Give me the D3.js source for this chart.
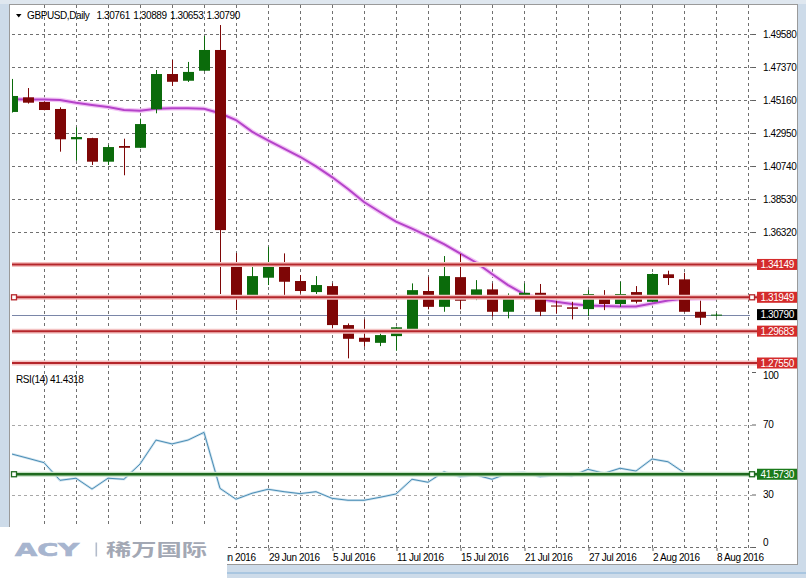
<!DOCTYPE html>
<html><head><meta charset="utf-8">
<script src="https://cdn.jsdelivr.net/npm/d3@7/dist/d3.min.js"></script>
<style>
html,body{margin:0;padding:0;background:#cddbe9;}
svg{display:block;}
text{font-family:"Liberation Sans",Arial,sans-serif;}
</style></head><body>
<svg id="c" width="806" height="578"></svg>
<script>
// ---------- data ----------
const dates = ["7 Jun 2016","8 Jun 2016","9 Jun 2016","10 Jun 2016","13 Jun 2016","14 Jun 2016","15 Jun 2016","16 Jun 2016","17 Jun 2016",
"20 Jun 2016","21 Jun 2016","22 Jun 2016","23 Jun 2016","24 Jun 2016","27 Jun 2016","28 Jun 2016","29 Jun 2016","30 Jun 2016","1 Jul 2016",
"4 Jul 2016","5 Jul 2016","6 Jul 2016","7 Jul 2016","8 Jul 2016","11 Jul 2016","12 Jul 2016","13 Jul 2016","14 Jul 2016","15 Jul 2016",
"18 Jul 2016","19 Jul 2016","20 Jul 2016","21 Jul 2016","22 Jul 2016","25 Jul 2016","26 Jul 2016","27 Jul 2016","28 Jul 2016","29 Jul 2016",
"1 Aug 2016","2 Aug 2016","3 Aug 2016","4 Aug 2016","5 Aug 2016","8 Aug 2016"];
const open  = [1.4436,1.4534,1.4503,1.4456,1.4253,1.4261,1.4103,1.4208,1.4196,1.4454,1.4690,1.4645,1.4712,1.4851,1.3411,1.3194,1.3326,1.3416,1.3304,
1.3230,1.3270,1.3009,1.2924,1.2890,1.2935,1.2975,1.3237,1.3131,1.3330,1.3183,1.3248,1.3098,1.3199,1.3225,1.3140,1.3128,1.3116,1.3210,1.3150,
1.3230,1.3165,1.3349,1.3315,1.3098,1.30761];
const high  = [1.4657,1.4596,1.4507,1.4467,1.4333,1.4263,1.4215,1.4257,1.4391,1.4717,1.4784,1.4771,1.4945,1.5018,1.3491,1.3411,1.3533,1.3489,1.3344,
1.3337,1.3288,1.3020,1.3047,1.2953,1.2998,1.3288,1.3332,1.3471,1.3485,1.3310,1.3288,1.3221,1.3288,1.3284,1.3172,1.3165,1.3243,1.3243,1.3299,
1.3270,1.3355,1.3373,1.3359,1.3172,1.30889];
const low   = [1.4432,1.4492,1.4447,1.4170,1.4109,1.4081,1.4081,1.4012,1.4194,1.4427,1.4610,1.4637,1.4710,1.3217,1.3109,1.3192,1.3277,1.3199,1.3221,
1.3217,1.2987,1.2786,1.2864,1.2868,1.2837,1.2964,1.3114,1.3098,1.3114,1.3176,1.3065,1.3054,1.3176,1.3069,1.3087,1.3047,1.3069,1.3109,1.3131,
1.3154,1.3163,1.3277,1.3096,1.3009,1.30653];
const close = [1.4543,1.4498,1.4449,1.4253,1.4268,1.4103,1.4201,1.4196,1.4355,1.4690,1.4638,1.4704,1.4851,1.3645,1.3210,1.3337,1.3418,1.3299,1.3237,
1.3277,1.3009,1.2917,1.2897,1.2942,1.2994,1.3243,1.3131,1.3337,1.3172,1.3248,1.3098,1.3203,1.3225,1.3098,1.3133,1.3118,1.3217,1.3150,1.3217,
1.3165,1.3351,1.3324,1.3098,1.3058,1.30790];
const ma    = [1.4521,1.4519,1.4519,1.4516,1.4498,1.4483,1.4469,1.4449,1.4444,1.4458,1.4460,1.4460,1.4458,1.4427,1.4382,1.4304,1.4245,1.4191,1.4136,
1.4071,1.4000,1.3920,1.3833,1.3766,1.3702,1.3655,1.3605,1.3551,1.3489,1.3428,1.3351,1.3277,1.3217,1.3183,1.3165,1.3150,1.3140,1.3136,1.3133,
1.3133,1.3153,1.3173,1.3186,1.3188,1.3188];
const rsi   = [53.1,50.7,48.2,38.1,39.3,33.1,39.3,38.7,47.4,61.1,58.9,61.1,65.5,33.5,27.3,30.7,33.0,31.6,30.5,
31.6,27.8,26.7,26.7,28.4,30.3,38.7,37.0,43.0,40.2,41.1,38.7,42.1,42.5,40.2,41.1,40.6,44.4,42.1,45.0,
43.4,50.3,48.7,42.5,41.5,41.43];
const priceTicks = [1.4958,1.4737,1.4516,1.4295,1.4074,1.3853,1.3632];
const levels = [1.34149,1.31949,1.29683,1.27550];
const lastPrice = 1.30790;
const rsiLevel = 41.5730;
const rsiTicks = [100,70,30,0];
const rsiGrid = [70,30,0];
const dateTickIdx = [12,16,20,24,28,32,36,40,44];
const header = ["GBPUSD,Daily","1.30761","1.30889","1.30653","1.30790"];
const rsiTitle = "RSI(14) 41.4318";

// ---------- layout ----------
const svg = d3.select("#c");
const L = 12, R = 750, T = 5, MB = 368;
const x = d3.scaleLinear().domain([0,44]).range([12,716]);
const y = d3.scaleLinear().domain([1.2755,1.4958]).range([363,34]);
const ry = d3.scaleLinear().domain([0,100]).range([547,372]);
const GREEN = "#0b6b0b", RED = "#7e0606";

// window
svg.append("rect").attr("x",0).attr("y",0).attr("width",806).attr("height",578).attr("fill","#cddbe9");
svg.append("rect").attr("x",0).attr("y",0).attr("width",806).attr("height",4).attr("fill","#dfe7ef");
svg.append("rect").attr("x",9.5).attr("y",4.5).attr("width",788).attr("height",560).attr("fill","#fff").attr("stroke","#9a9a9a");
svg.append("line").attr("x1",0).attr("x2",806).attr("y1",573).attr("y2",573).attr("stroke","#a9c6e0").attr("stroke-width",2);

const defs = svg.append("defs");
defs.append("clipPath").attr("id","mainClip").append("rect").attr("x",L).attr("y",T).attr("width",R-L).attr("height",MB-T);
defs.append("clipPath").attr("id","rsiClip").append("rect").attr("x",L).attr("y",368).attr("width",R-L).attr("height",182);

// vertical grid
const vg = svg.append("g");
d3.range(2,47,2).forEach(i=>{
  vg.append("line").attr("x1",x(i)+0.5).attr("x2",x(i)+0.5).attr("y1",T).attr("y2",548)
    .attr("stroke","#707070").attr("stroke-dasharray","3,3");
});
// horizontal grid main
priceTicks.forEach(p=>{
  svg.append("line").attr("x1",L).attr("x2",752).attr("y1",Math.round(y(p))+0.5).attr("y2",Math.round(y(p))+0.5)
    .attr("stroke","#707070").attr("stroke-dasharray","3,3");
});
// rsi grid
rsiGrid.forEach(v=>{
  svg.append("line").attr("x1",L).attr("x2",752).attr("y1",Math.round(ry(v))+0.5).attr("y2",Math.round(ry(v))+0.5)
    .attr("stroke", v===0 ? "#707070" : "#a8a8a8").attr("stroke-dasharray","3,3");
});

// main panel marks
const main = svg.append("g").attr("clip-path","url(#mainClip)");
main.append("line").attr("x1",L).attr("x2",757).attr("y1",Math.round(y(lastPrice))+0.5).attr("y2",Math.round(y(lastPrice))+0.5)
  .attr("stroke","#7a86a8").attr("stroke-width",1);

// levels
const lv = svg.append("g");
levels.forEach(p=>{
  const yy = y(p);
  lv.append("line").attr("x1",L).attr("x2",757).attr("y1",yy).attr("y2",yy).attr("stroke","#f4c2c2").attr("stroke-width",5);
  lv.append("line").attr("x1",L).attr("x2",757).attr("y1",yy).attr("y2",yy).attr("stroke","#b5262b").attr("stroke-width",2);
});
[14,752].forEach(xx=>{
  lv.append("rect").attr("x",xx-2.5).attr("y",y(levels[1])-2.5).attr("width",5).attr("height",5)
    .attr("fill","#fff").attr("stroke","#b5262b").attr("stroke-width",1.3);
});

// MA
const maLine = d3.line().x((d,i)=>x(i)).y(d=>y(d));
main.append("path").attr("d",maLine(ma)).attr("fill","none").attr("stroke","#f3c4f6").attr("stroke-width",4.5);
main.append("path").attr("d",maLine(ma)).attr("fill","none").attr("stroke","#b443c9").attr("stroke-width",2);

// candles
const idx = d3.range(open.length);
const cg = main.append("g");
idx.forEach(i=>{
  const up = close[i] >= open[i];
  const col = up ? GREEN : RED;
  const cx = Math.round(x(i));
  cg.append("line").attr("x1",cx+0.5).attr("x2",cx+0.5).attr("y1",y(high[i])).attr("y2",y(low[i])).attr("stroke",col).attr("stroke-width",1);
  const top = y(Math.max(open[i],close[i])), bot = y(Math.min(open[i],close[i]));
  cg.append("rect").attr("x",cx-5).attr("y",top).attr("width",11).attr("height",Math.max(1,bot-top)).attr("fill",col);
});

// RSI
const rsiG = svg.append("g").attr("clip-path","url(#rsiClip)");
const rl = d3.line().x((d,i)=>x(i)).y(d=>ry(d));
rsiG.append("path").attr("d",rl(rsi)).attr("fill","none").attr("stroke","#cfe3ef").attr("stroke-width",2.5);
rsiG.append("path").attr("d",rl(rsi)).attr("fill","none").attr("stroke","#4a8db5").attr("stroke-width",1);
svg.append("line").attr("x1",L).attr("x2",757).attr("y1",ry(rsiLevel)).attr("y2",ry(rsiLevel)).attr("stroke","#c4e0c4").attr("stroke-width",5);
svg.append("line").attr("x1",L).attr("x2",757).attr("y1",ry(rsiLevel)).attr("y2",ry(rsiLevel)).attr("stroke","#1f6a1f").attr("stroke-width",2.5);
[14,752].forEach(xx=>{
  svg.append("rect").attr("x",xx-2.5).attr("y",ry(rsiLevel)-2.5).attr("width",5).attr("height",5)
    .attr("fill","#fff").attr("stroke","#1f6a1f").attr("stroke-width",1.3);
});

// axes
const fs = "10px", ls = "-0.4px";
const yAxis = d3.axisRight(y).tickValues(priceTicks).tickFormat(d3.format(".5f")).tickSize(4).tickPadding(7);
const ya = svg.append("g").attr("transform","translate(752,0)").call(yAxis);
ya.select(".domain").remove();
ya.selectAll(".tick line").attr("stroke","#606060");
ya.selectAll("text").attr("fill","#000").style("font-size",fs).style("letter-spacing",ls).attr("font-family",null);

const rAxis = d3.axisRight(ry).tickValues(rsiTicks).tickFormat(d3.format("d")).tickSize(4).tickPadding(7);
const ra = svg.append("g").attr("transform","translate(752,0)").call(rAxis);
ra.select(".domain").remove();
ra.selectAll(".tick line").attr("stroke","#606060");
ra.selectAll("text").attr("fill","#000").style("font-size",fs).style("letter-spacing",ls).attr("font-family",null)
  .attr("dy",d=> d===0 ? "-0.2em" : (d===100 ? "0.6em" : "0.32em"));

// price boxes
function box(yy, label, fill){
  svg.append("rect").attr("x",757).attr("y",yy-5.5).attr("width",40).attr("height",11).attr("fill",fill);
  svg.append("text").attr("x",760.5).attr("y",yy).attr("dy","0.36em").attr("fill","#fff")
    .style("font-size",fs).style("letter-spacing",ls).text(label);
}
levels.forEach(p=>box(y(p), d3.format(".5f")(p), "#d42b2b"));
box(y(lastPrice), d3.format(".5f")(lastPrice), "#000");
box(ry(rsiLevel), d3.format(".4f")(rsiLevel), "#1b7a1b");

// date axis
const xAxis = d3.axisBottom(x).tickValues(dateTickIdx).tickFormat(i=>dates[i]).tickSize(3).tickPadding(2);
const xa = svg.append("g").attr("transform","translate(0.5,548)").call(xAxis);
xa.select(".domain").remove();
xa.selectAll(".tick line").attr("stroke","#606060");
xa.selectAll("text").attr("text-anchor","start").attr("fill","#000").attr("y",13).attr("dy",0)
  .style("font-size",fs).style("letter-spacing",ls).attr("font-family",null);

// header
svg.append("path").attr("d","M16,14 L21.5,14 L18.75,17.5 Z").attr("fill","#000");
const hx = [27,96.5,133.3,170,206.5];
header.forEach((t,k)=>{
  svg.append("text").attr("x",hx[k]).attr("y",19).attr("fill","#000").style("font-size",fs).style("letter-spacing",ls).text(t);
});
svg.append("text").attr("x",16).attr("y",383).attr("fill","#000").style("font-size",fs).style("letter-spacing",ls).text(rsiTitle);

// logo
svg.append("rect").attr("x",0).attr("y",527).attr("width",227).attr("height",51).attr("fill","#fff");
svg.append("g").attr("transform","translate(15,556) scale(1.55,1)")
  .append("text").attr("x",0).attr("y",0).attr("fill","#a7b5cf").attr("stroke","#a7b5cf").attr("stroke-width",0.7)
  .style("font-family","'DejaVu Sans',sans-serif").style("font-size","18.5px").style("font-weight","700").text("ACY");
svg.append("rect").attr("x",95.5).attr("y",542.5).attr("width",1.6).attr("height",14).attr("fill","#b3bccb");
svg.append("text").attr("x",106).attr("y",555.5).attr("fill","#a3a8b4").style("font-size","16.5px").style("font-weight","700")
  .style("font-family","'Noto Sans CJK SC',sans-serif")
  .attr("textLength",101).attr("lengthAdjust","spacingAndGlyphs").text("稀万国际");
</script>
</body></html>
